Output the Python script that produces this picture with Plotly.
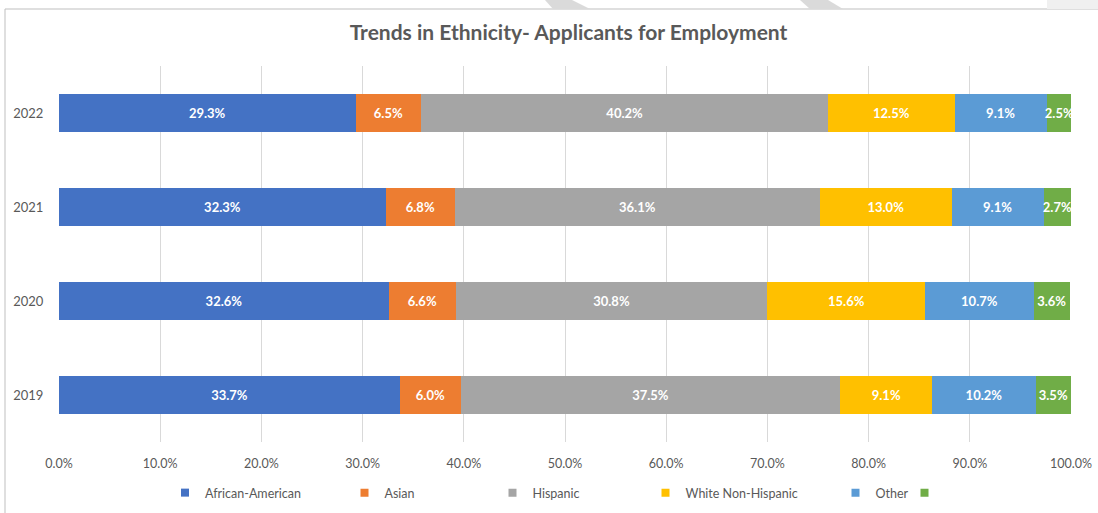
import plotly.graph_objects as go

# Survey years (bottom to top on the category axis)
years = ["2019", "2020", "2021", "2022"]

# Share of applicants by ethnicity, percent
african_american = [33.7, 32.6, 32.3, 29.3]
asian = [6.0, 6.6, 6.8, 6.5]
hispanic = [37.5, 30.8, 36.1, 40.2]
white_non_hispanic = [9.1, 15.6, 13.0, 12.5]
other = [10.2, 10.7, 9.1, 9.1]
unlabeled = [3.5, 3.6, 2.7, 2.5]

series_names = ["African-American", "Asian", "Hispanic", "White Non-Hispanic", "Other", ""]
series_values = [african_american, asian, hispanic, white_non_hispanic, other, unlabeled]
series_colors = ["#4472C4", "#ED7D31", "#A5A5A5", "#FFC000", "#5B9BD5", "#70AD47"]

W, H = 1098, 513
L, R, T, B = 59, 1071, 66, 442  # plot area edges in pixels
FONT = "Lato"
GREY_TEXT = "#595959"


def px_x(px):
    return (px - L) / (R - L)


def px_y(py):
    return (B - py) / (B - T)


# legend swatch centres along the bottom row
legend_centres = [189, 368.5, 516.5, 669.5, 859.5, 928.5]

fig = go.Figure()
legend_layouts = {}
for i, (name, vals, col) in enumerate(zip(series_names, series_values, series_colors)):
    lg = "legend" if i == 0 else f"legend{i + 1}"
    fig.add_trace(go.Bar(
        y=years, x=vals, orientation="h", name=name,
        marker=dict(color=col, line=dict(width=0)),
        text=[f"{v:.1f}%" for v in vals],
        textposition="inside", insidetextanchor="middle",
        textangle=0, constraintext="none",
        textfont=dict(family=FONT, size=13, color="white", weight="bold"),
        hoverinfo="skip", showlegend=False,
    ))
    # legend entry with a small square swatch
    fig.add_trace(go.Scatter(
        x=[None], y=[None], mode="markers", name=name,
        marker=dict(symbol="square", size=8, color=col),
        legend=lg, showlegend=True, hoverinfo="skip",
    ))
    legend_layouts[lg] = dict(
        xref="container", yref="container",
        x=(legend_centres[i] - 24) / W, y=1 - 493 / H,
        xanchor="left", yanchor="middle", orientation="h",
        bgcolor="rgba(0,0,0,0)", borderwidth=0,
        font=dict(family=FONT, size=12.5, color=GREY_TEXT),
        itemsizing="trace", itemwidth=30,
    )

shapes = [
    # chart frame
    dict(type="rect", xref="paper", yref="paper",
         x0=px_x(5), x1=px_x(W + 5), y0=px_y(H + 5), y1=px_y(9),
         line=dict(color="#BFBFBF", width=1), fillcolor="rgba(0,0,0,0)", layer="below"),
    # diagonal bands across the top strip
    dict(type="path", xref="paper", yref="paper",
         path=f"M {px_x(545)},{px_y(0)} L {px_x(572)},{px_y(0)} L {px_x(590)},{px_y(9)} L {px_x(553)},{px_y(9)} Z",
         fillcolor="#DADADA", line=dict(width=0)),
    dict(type="path", xref="paper", yref="paper",
         path=f"M {px_x(800)},{px_y(0)} L {px_x(828)},{px_y(0)} L {px_x(843)},{px_y(9)} L {px_x(810)},{px_y(9)} Z",
         fillcolor="#DADADA", line=dict(width=0)),
    dict(type="rect", xref="paper", yref="paper",
         x0=px_x(1047), x1=px_x(1100), y0=px_y(9), y1=px_y(0),
         fillcolor="#F0F0F0", line=dict(width=0)),
]

fig.update_layout(
    width=W, height=H,
    margin=dict(l=L, r=W - R, t=T, b=H - B, autoexpand=False),
    paper_bgcolor="white", plot_bgcolor="white",
    barmode="stack", bargap=0.596,
    title=dict(
        text="Trends in Ethnicity- Applicants for Employment",
        x=568.5 / W, xref="container", xanchor="center",
        y=1 - 33 / H, yref="container", yanchor="middle",
        font=dict(family=FONT, size=21, color=GREY_TEXT, weight="bold"),
    ),
    xaxis=dict(
        range=[0, 100], dtick=10, tickformat=".1f", ticksuffix="%",
        showgrid=True, gridcolor="#D9D9D9", gridwidth=1,
        zeroline=False, showline=False, automargin=False,
        tickfont=dict(family=FONT, size=12.5, color=GREY_TEXT),
        ticks="outside", ticklen=10, tickcolor="rgba(0,0,0,0)",
        fixedrange=True,
    ),
    yaxis=dict(
        showgrid=False, zeroline=False, showline=False, automargin=False,
        tickfont=dict(family=FONT, size=13, color=GREY_TEXT),
        ticks="outside", ticklen=12, tickcolor="rgba(0,0,0,0)",
        fixedrange=True,
    ),
    shapes=shapes,
    **legend_layouts,
)

fig.write_html("out.html")
